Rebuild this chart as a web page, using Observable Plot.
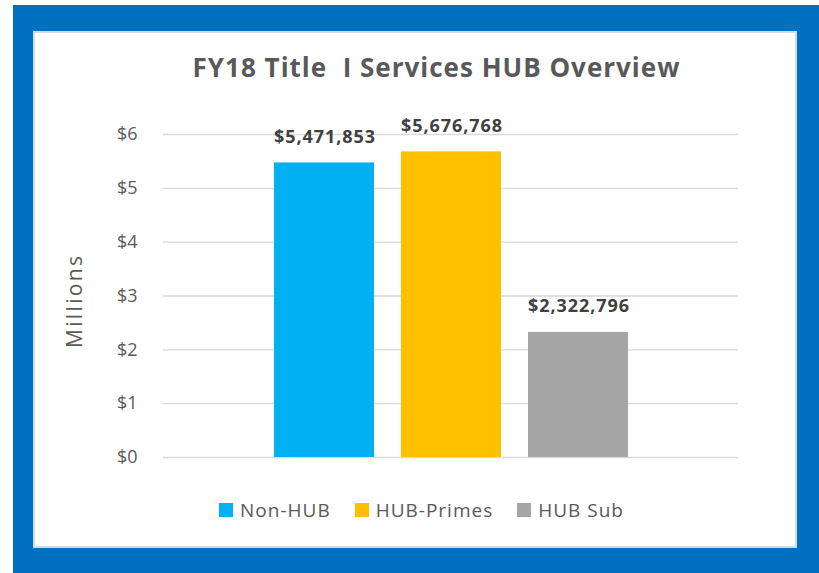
<!DOCTYPE html>
<html>
<head>
<meta charset="utf-8">
<script src="https://cdn.jsdelivr.net/npm/d3@7"></script>
<script src="https://cdn.jsdelivr.net/npm/@observablehq/plot@0.6"></script>
<style>
  html, body { margin: 0; padding: 0; background: #fff; width: 819px; height: 573px; overflow: hidden; }
  body { position: relative; font-family: "Open Sans", "Noto Sans", sans-serif; }
  .outer { position: absolute; left: 13px; top: 5px; width: 806px; height: 568px; background: #0070c0; }
  .inner { position: absolute; left: 33px; top: 31px; width: 764px; height: 517px; background: #fff; border: 2px solid #d9d9d9; box-sizing: border-box; }
  #chart { position: absolute; left: 0; top: 0; }
  .title { position: absolute; left: 0; width: 873px; top: 52px; line-height: 30px; text-align: center; font-weight: bold; font-size: 26px; color: #595959; letter-spacing: 1px; }
  .legend { position: absolute; top: 500px; left: 0; width: 843px; display: flex; justify-content: center; gap: 24px; font-size: 19px; line-height: 20px; letter-spacing: 1px; color: #595959; }
  .legend span.item { display: flex; align-items: center; gap: 7px; }
  .legend span.sw { width: 14px; height: 14px; display: inline-block; }
</style>
</head>
<body>
<div class="outer"></div>
<div class="inner"></div>
<div id="chart"></div>
<div class="title">FY18 Title&nbsp; I Services HUB Overview</div>
<div class="legend" id="legend"></div>
<script>
const categories = ["Non-HUB", "HUB-Primes", "HUB Sub"];
const values = [5471853, 5676768, 2322796];
const colors = ["#00b0f0", "#ffc000", "#a5a5a5"];
const yTicks = [0, 1, 2, 3, 4, 5, 6];

const data = categories.map((c, i) => ({category: c, value: values[i], millions: values[i] / 1e6}));
const fmt = d3.format("$,");
const labelTexts = data.map(d => fmt(d.value));

const chart = Plot.plot({
  width: 819,
  height: 573,
  marginLeft: 163,
  marginRight: 81,
  marginTop: 134,
  marginBottom: 116,
  style: {background: "transparent", fontFamily: "Open Sans, Noto Sans, sans-serif"},
  x: {domain: categories, paddingInner: 0.213, paddingOuter: 0.87, axis: null},
  y: {domain: [0, 6], ticks: yTicks, label: null},
  color: {domain: categories, range: colors},
  marks: [
    Plot.gridY(yTicks, {stroke: "#d9d9d9", strokeOpacity: 1, strokeWidth: 1.3}),
    Plot.axisY(yTicks, {tickSize: 0, tickPadding: 26, tickFormat: d => "$" + d, fontSize: 18, fill: "#595959", label: null}),
    Plot.barY(data, {x: "category", y: "millions", fill: "category"}),
    Plot.text(data, {x: "category", y: "millions", text: d => fmt(d.value), lineAnchor: "bottom", dy: -20, fontSize: 18, fontWeight: "bold", fill: "#404040"}),
    Plot.text(["Millions"], {frameAnchor: "left", textAnchor: "middle", dx: -88, dy: 6, rotate: -90, fontSize: 21, fill: "#595959"})
  ]
});
d3.select(chart).selectAll("text")
  .filter(function() { return labelTexts.includes(this.textContent); })
  .attr("textLength", 101).attr("lengthAdjust", "spacing");
d3.select(chart).selectAll("text")
  .filter(function() { return this.textContent === "Millions"; })
  .attr("textLength", 92).attr("lengthAdjust", "spacing");
document.getElementById("chart").appendChild(chart);

const legend = document.getElementById("legend");
categories.forEach((c, i) => {
  const item = document.createElement("span");
  item.className = "item";
  const sw = document.createElement("span");
  sw.className = "sw";
  sw.style.background = colors[i];
  item.appendChild(sw);
  item.appendChild(document.createTextNode(c));
  legend.appendChild(item);
});
</script>
</body>
</html>
